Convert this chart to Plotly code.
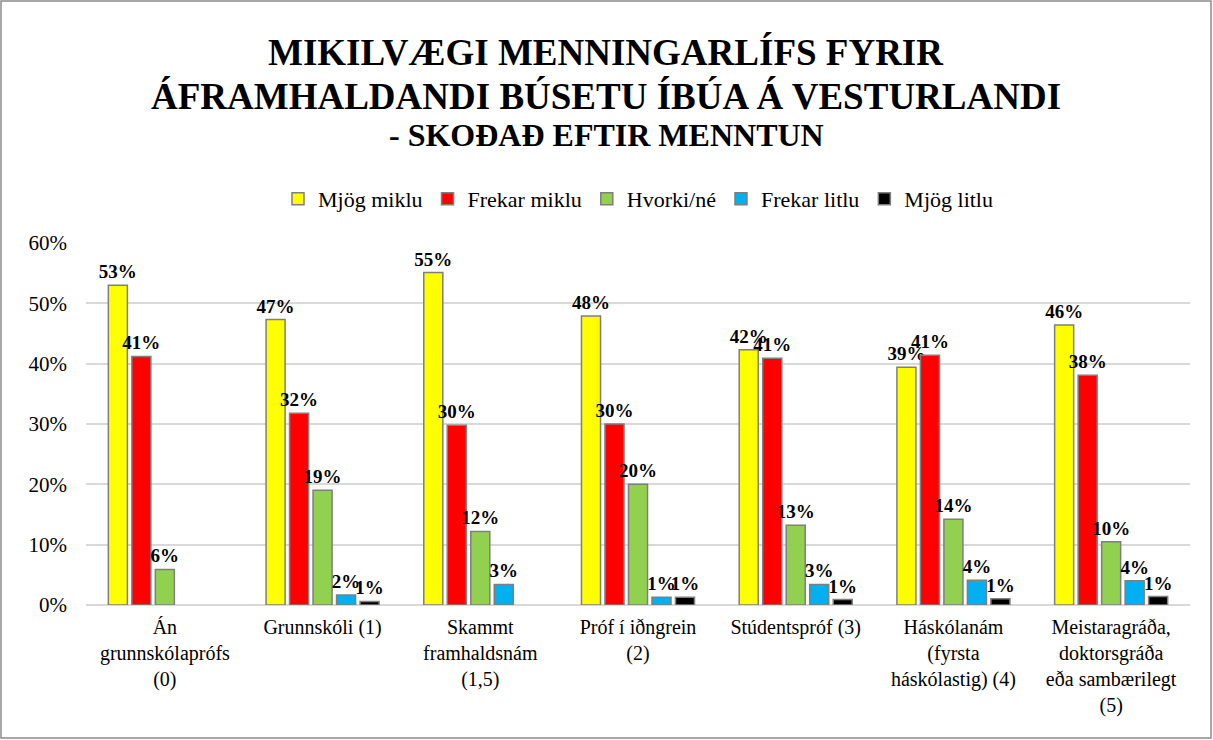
import plotly.graph_objects as go

categories = ["Án<br>grunnskólaprófs<br>(0)", "Grunnskóli (1)", "Skammt<br>framhaldsnám<br>(1,5)",
              "Próf í iðngrein<br>(2)", "Stúdentspróf (3)", "Háskólanám<br>(fyrsta<br>háskólastig) (4)",
              "Meistaragráða,<br>doktorsgráða<br>eða sambærilegt<br>(5)"]
series_names = ["Mjög miklu", "Frekar miklu", "Hvorki/né", "Frekar litlu", "Mjög litlu"]
mjog_miklu = [0.530, 0.473, 0.551, 0.479, 0.423, 0.394, 0.464]
frekar_miklu = [0.412, 0.318, 0.298, 0.300, 0.409, 0.414, 0.381]
hvorki_ne = [0.059, 0.190, 0.122, 0.200, 0.132, 0.142, 0.105]
frekar_litlu = [None, 0.0165, 0.034, 0.013, 0.034, 0.041, 0.040]
mjog_litlu = [None, 0.006, None, 0.013, 0.009, 0.0105, 0.014]
colors = ["#FFFF00", "#FF0000", "#92D050", "#00B0F0", "#000000"]

FONT = "Liberation Serif"
fig = go.Figure()
for name, vals, col in zip(series_names, [mjog_miklu, frekar_miklu, hvorki_ne, frekar_litlu, mjog_litlu], colors):
    fig.add_trace(go.Bar(
        x=categories, y=vals, name=name,
        marker=dict(color=col, line=dict(color="#7F7F7F", width=1.5)),
        text=[f"{round(v*100)}%" if v else "" for v in vals],
        textposition="outside", constraintext="none", cliponaxis=False,
        textfont=dict(family=FONT, size=19, color="black", weight="bold"),
    ))

W, H = 1213, 740
l, r, t, b = 86, 23, 243, 135
pw, ph = W - l - r, H - t - b
def px(xp): return (xp - l) / pw
def py(yp): return (H - b - yp) / ph

fig.update_layout(
    width=W, height=H, margin=dict(l=l, r=r, t=t, b=b),
    paper_bgcolor="white", plot_bgcolor="white",
    barmode="group", bargap=0.255, bargroupgap=0.19,
    font=dict(family=FONT, size=20, color="black"),
    showlegend=True,
    legend=dict(orientation="h", x=0.5, xanchor="center", y=py(199), yanchor="middle",
                font=dict(family=FONT, size=22, color="black"), itemwidth=30, traceorder="normal"),
    xaxis=dict(showgrid=False, showline=False, ticks="", tickangle=0, ticklabelstandoff=8,
               tickfont=dict(family=FONT, size=20, color="black")),
    yaxis=dict(range=[0, 0.6], dtick=0.1, tickformat=".0%", showgrid=True,
               gridcolor="#D9D9D9", gridwidth=1.5, zeroline=True, zerolinecolor="#D9D9D9",
               zerolinewidth=1.5, showline=False, ticklabelstandoff=18,
               tickfont=dict(family=FONT, size=21, color="black")),
    shapes=[dict(type="rect", xref="paper", yref="paper", x0=px(1), x1=px(1211), y0=py(738), y1=py(1),
                 line=dict(color="#8C8C8C", width=1.5), fillcolor="rgba(0,0,0,0)", layer="below")],
    annotations=[
        dict(text="<b>MIKILVÆGI MENNINGARLÍFS FYRIR</b>", xref="paper", yref="paper",
             x=px(606), y=py(53), showarrow=False, font=dict(family=FONT, size=37, color="black"),
             xanchor="center", yanchor="middle"),
        dict(text="<b>ÁFRAMHALDANDI BÚSETU ÍBÚA Á VESTURLANDI</b>", xref="paper", yref="paper",
             x=px(606), y=py(96), showarrow=False, font=dict(family=FONT, size=37, color="black"),
             xanchor="center", yanchor="middle"),
        dict(text="<b>- SKOÐAÐ EFTIR MENNTUN</b>", xref="paper", yref="paper",
             x=px(606), y=py(135), showarrow=False, font=dict(family=FONT, size=32, color="black"),
             xanchor="center", yanchor="middle"),
    ],
)
fig.write_html("out.html", config={"displayModeBar": False},
               post_script="document.body.style.margin='0';")
